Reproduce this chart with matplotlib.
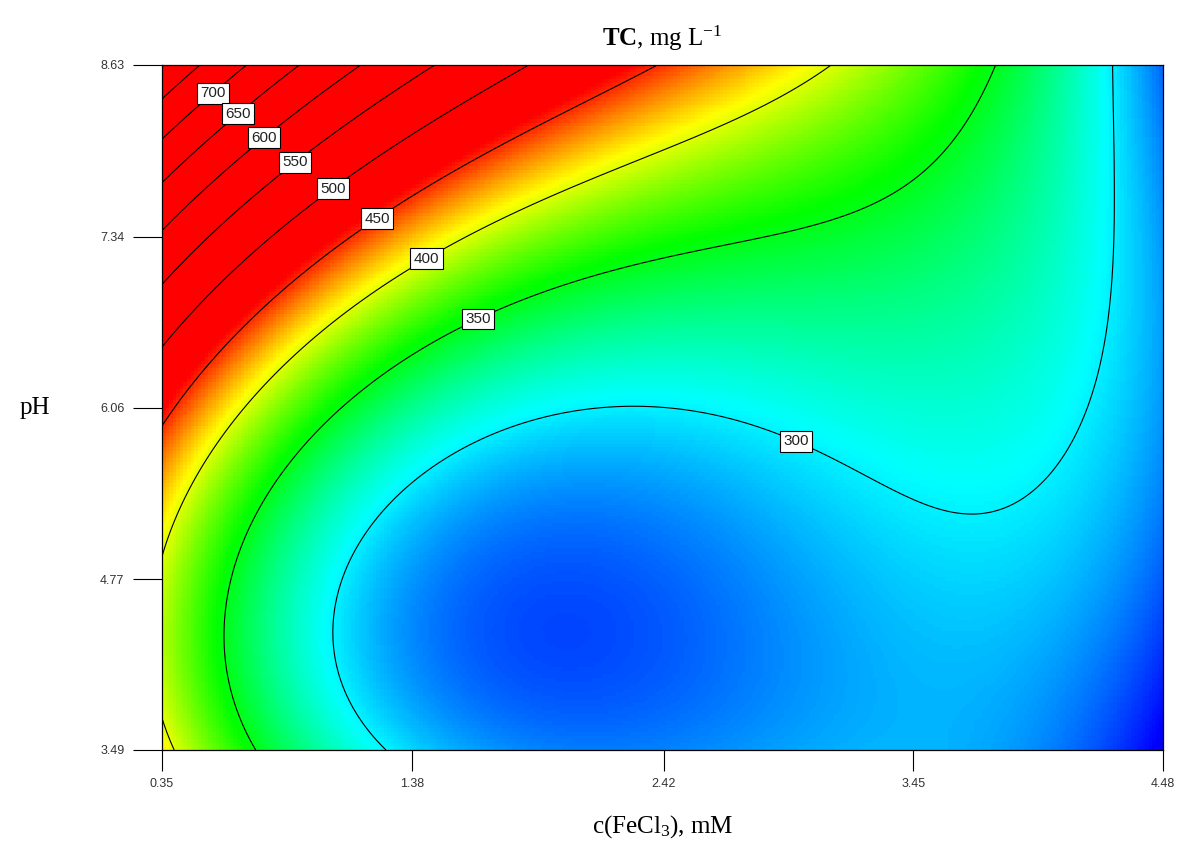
import numpy as np
import matplotlib
matplotlib.use("Agg")
import matplotlib.pyplot as plt
from matplotlib.colors import LinearSegmentedColormap, Normalize

# ---------------- data ----------------
x_ticks = [0.35, 1.38, 2.42, 3.45, 4.48]
y_ticks = [3.49, 4.77, 6.06, 7.34, 8.63]

levels = [300, 350, 400, 450, 500, 550, 600, 650, 700, 750]
labeled_levels = [300, 350, 400, 450, 500, 550, 600, 650, 700]

# points (c in mM, pH)
c_300 = [1.303, 1.138, 1.072, 1.080, 1.167, 1.262, 1.414, 1.629, 1.699, 2.277, 2.619, 2.982,
         3.259, 3.543, 3.704, 3.808, 3.964, 4.084, 4.150, 4.232, 4.290, 4.303, 4.298, 4.282]
ph_300 = [3.49, 3.963, 4.443, 4.616, 5.013, 5.291, 5.516, 5.794, 5.839, 6.056, 5.989, 5.839,
          5.591, 5.268, 5.231, 5.261, 5.441, 5.689, 6.019, 6.416, 6.919, 7.467, 7.917, 8.63]
c_350 = [0.734, 0.639, 0.610, 0.618, 0.659, 0.804, 1.171, 1.629, 2.157, 2.570, 2.982, 3.325,
         3.531, 3.671, 3.774]
ph_350 = [3.49, 3.888, 4.390, 4.616, 4.893, 5.493, 6.244, 6.769, 7.032, 7.242, 7.444, 7.692,
          7.970, 8.292, 8.63]
c_400 = [0.35, 0.395, 0.358, 0.618, 0.895, 1.171, 1.447, 2.000, 2.157, 2.570, 2.846, 3.011, 3.098]
ph_400 = [3.730, 3.49, 4.968, 5.869, 6.491, 6.919, 7.189, 7.670, 7.782, 8.090, 8.345, 8.517, 8.63]
c_450 = [0.35, 0.618, 0.895, 1.225, 1.526, 1.724, 1.856, 2.157, 2.396]
ph_450 = [5.944, 6.491, 6.942, 7.444, 7.782, 7.992, 8.082, 8.390, 8.63]
c_500 = [0.35, 0.692, 1.043, 1.456, 1.872]
ph_500 = [6.544, 7.129, 7.692, 8.202, 8.63]
c_550 = [0.35, 0.610, 0.886, 1.167, 1.476]
ph_550 = [6.964, 7.452, 7.932, 8.292, 8.63]
c_600 = [0.35, 0.548, 0.763, 1.167]
ph_600 = [7.369, 7.767, 8.105, 8.63]
c_650 = [0.35, 0.655, 0.932]
ph_650 = [7.745, 8.285, 8.63]
c_700 = [0.35, 0.556, 0.709]
ph_700 = [8.067, 8.405, 8.63]
c_750 = [0.35, 0.519]
ph_750 = [8.345, 8.63]

# values estimated from the colour at a few more points
c_est = [2.070, 4.48, 4.48, 4.48, 0.35, 2.982, 0.35, 3.5, 2.4, 1.0, 4.0]
ph_est = [4.390, 3.49, 6.06, 8.63, 8.63, 3.49, 4.35, 7.0, 6.5, 3.49, 4.0]
tc_est = [258, 246, 277, 272, 790, 282, 388, 330, 322, 322, 288]

# where the contour labels sit (c, pH)
label_pos = [(0.556, 8.427), (0.655, 8.285), (0.763, 8.105), (0.886, 7.932), (1.043, 7.730),
             (1.221, 7.519), (1.427, 7.219), (1.641, 6.769), (2.982, 5.876)]

# ---------------- response surface fitted to the traced values ----------------
traces = [(c_300, ph_300, 300), (c_350, ph_350, 350), (c_400, ph_400, 400),
          (c_450, ph_450, 450), (c_500, ph_500, 500), (c_550, ph_550, 550),
          (c_600, ph_600, 600), (c_650, ph_650, 650), (c_700, ph_700, 700),
          (c_750, ph_750, 750)]
C = np.concatenate([np.asarray(t[0], float) for t in traces] + [np.asarray(c_est, float)])
P = np.concatenate([np.asarray(t[1], float) for t in traces] + [np.asarray(ph_est, float)])
T = np.concatenate([np.full(len(t[0]), t[2], float) for t in traces] + [np.asarray(tc_est, float)])

DEG = 4


def design(c, ph):
    u = (np.asarray(c, float) - 2.415) / 2.065
    v = (np.asarray(ph, float) - 6.06) / 2.57
    cols = [u ** i * v ** j for i in range(DEG + 1) for j in range(DEG + 1 - i)]
    return np.stack(cols, axis=-1)


coef, *_ = np.linalg.lstsq(design(C, P), T, rcond=None)

xmin, xmax = x_ticks[0], x_ticks[-1]
ymin, ymax = y_ticks[0], y_ticks[-1]

# coarse raster for the colour field, fine grid for the lines
cg_c = np.linspace(xmin, xmax, 280)
pg_c = np.linspace(ymin, ymax, 190)
CGc, PGc = np.meshgrid(cg_c, pg_c)
Zc = design(CGc, PGc) @ coef

cg = np.linspace(xmin, xmax, 500)
pg = np.linspace(ymin, ymax, 400)
CG, PG = np.meshgrid(cg, pg)
Z = design(CG, PG) @ coef

# ---------------- colours ----------------
vmin, vmax = 235.0, 460.0
nodes = [(235, "#0000c0"), (250, "#0000ff"), (302.5, "#00ffff"), (355, "#00ff00"),
         (407.5, "#ffff00"), (460, "#ff0000")]
cmap = LinearSegmentedColormap.from_list(
    "de", [((v - vmin) / (vmax - vmin), col) for v, col in nodes])

plt.rcParams["mathtext.fontset"] = "custom"
plt.rcParams["mathtext.rm"] = "Liberation Serif"
plt.rcParams["mathtext.bf"] = "Liberation Serif:bold"
plt.rcParams["mathtext.it"] = "Liberation Serif:italic"

fig = plt.figure(figsize=(11.78, 8.47), dpi=100)
ax = fig.add_axes([162 / 1178, 1 - 750 / 847, 1001 / 1178, 685 / 847])

ax.imshow(Zc, extent=[xmin, xmax, ymin, ymax], origin="lower", aspect="auto",
          interpolation="nearest", cmap=cmap, norm=Normalize(vmin, vmax))
cs = ax.contour(CG, PG, Z, levels=levels, colors="black", linewidths=0.8)
lbls = ax.clabel(cs, levels=labeled_levels, inline=False, fmt="%d", fontsize=11,
                 manual=label_pos)
for t in lbls:
    t.set_rotation(0)
    t.set_family("Liberation Sans")
    t.set_color("#222222")
    t.set_bbox(dict(boxstyle="square,pad=0.22", facecolor="white", edgecolor="black",
                    linewidth=0.8))

ax.set_xlim(xmin, xmax)
ax.set_ylim(ymin, ymax)
ax.set_xticks(x_ticks)
ax.set_xticklabels([f"{v:.2f}" for v in x_ticks])
ax.set_yticks(y_ticks)
ax.set_yticklabels([f"{v:.2f}" for v in y_ticks])
ax.tick_params(axis="y", direction="out", length=21, width=0.8, pad=6,
               labelsize=9, labelcolor="#333333")
ax.tick_params(axis="x", direction="out", length=15, width=0.8, pad=5,
               labelsize=9, labelcolor="#333333")
for lab in ax.get_xticklabels() + ax.get_yticklabels():
    lab.set_family("Liberation Sans")
for sp in ax.spines.values():
    sp.set_linewidth(0.9)

ax.set_title(r"$\mathbf{TC}$, mg L$^{-1}$", family="Liberation Serif", fontsize=18, pad=14)
ax.set_xlabel(r"c(FeCl$_3$), mM", family="Liberation Serif", fontsize=18)
ax.xaxis.set_label_coords(0.5, -0.112)
ax.xaxis.label.set_va("center")
ax.set_ylabel("pH", family="Liberation Serif", fontsize=18, rotation=0)
ax.yaxis.set_label_coords(-0.127, 0.5)
ax.yaxis.label.set_va("center")
ax.yaxis.label.set_ha("center")

fig.savefig("out.png", dpi=100)
